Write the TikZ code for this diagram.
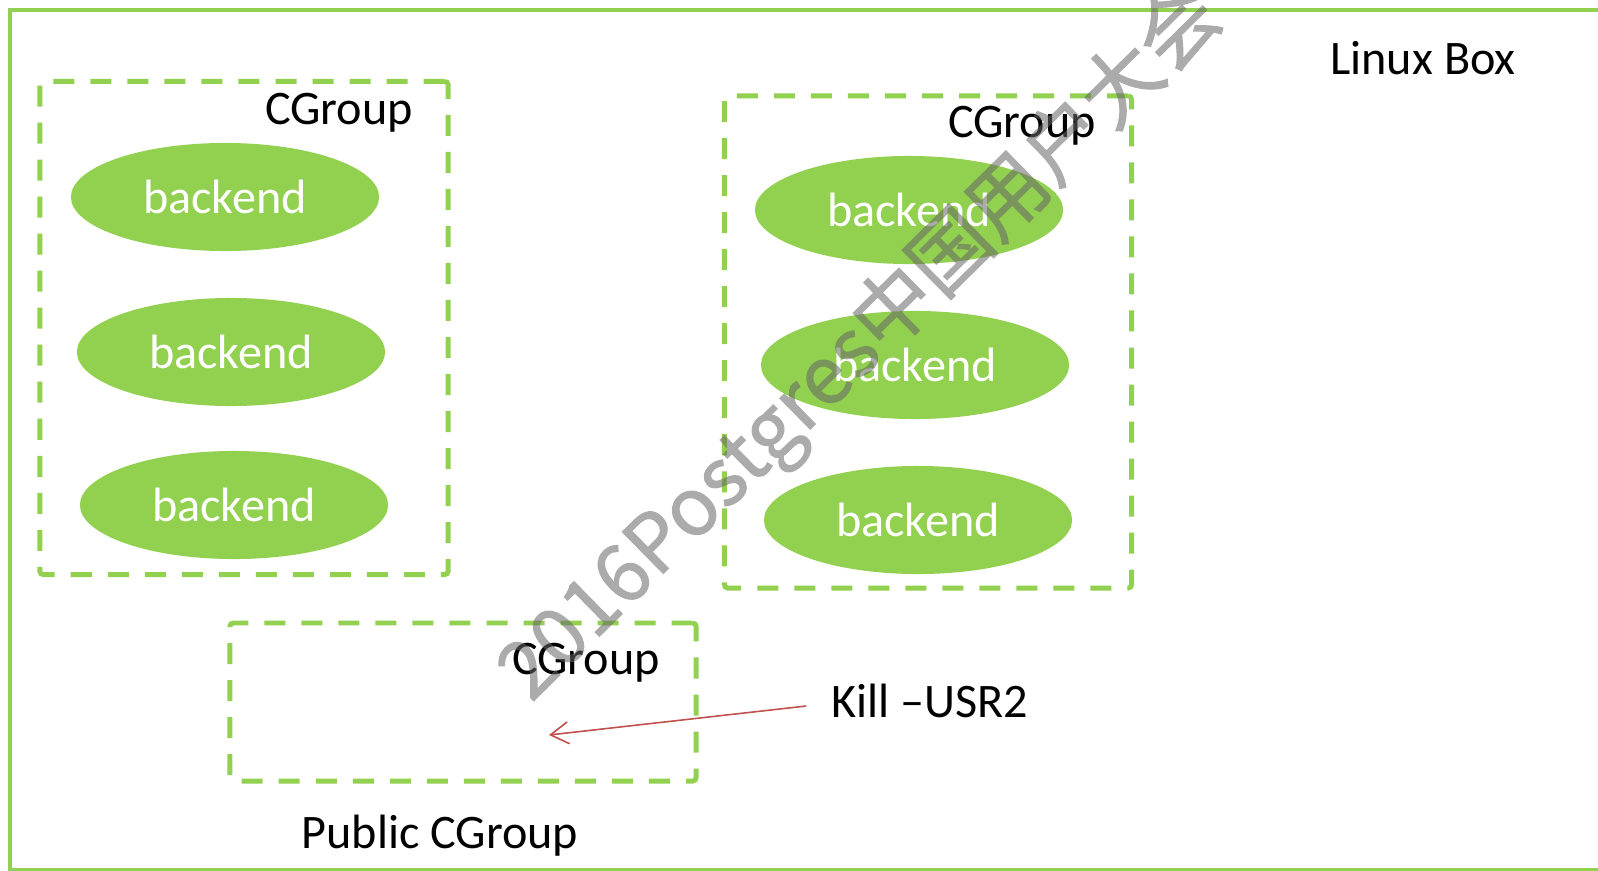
\documentclass[tikz,border=0pt]{standalone}
\usepackage{fontspec}
\setmainfont{Carlito}
\newfontfamily\wmfont[FakeBold=1.2]{Noto Sans CJK SC}
\usetikzlibrary{shapes.geometric, arrows.meta}
\definecolor{boxgreen}{HTML}{92D050}
\definecolor{sigred}{HTML}{C0504D}
\tikzset{backend/.style={ellipse, fill=boxgreen, text=white, minimum width=3.08cm, minimum height=1.08cm, inner sep=0pt}}
\tikzset{cgroup/.style={draw=boxgreen, line width=1.4pt, dash pattern=on 0.21cm off 0.16cm, rounded corners=1pt, inner sep=0pt}}
\tikzset{sigarrow/.style={draw=sigred, line width=0.45pt, -{Straight Barb[length=1.8mm, width=2.2mm]}}}

\begin{document}
\begin{tikzpicture}[x=0.01cm, y=-0.01cm, font=\fontsize{13.7}{16}\selectfont]
            \useasboundingbox (0, 0) rectangle (1598, 870);
            \fill[white] (0, 0) rectangle (1598, 870);
            \draw[boxgreen, line width=1.3pt] (10, 10) rectangle (1640, 870);
            \node (linux) at (1423, 58) {Linux Box};
            % cgroups
            \node[cgroup, minimum width=4.08cm, minimum height=4.93cm] (left) at (244, 328) {};
            \node[cgroup, minimum width=4.07cm, minimum height=4.92cm] (right) at (928, 342) {};
            \node[cgroup, minimum width=4.66cm, minimum height=1.58cm] (public) at (463, 702) {};
            \node (leftlbl) at (339, 113) {CGroup};
            \node (rightlbl) at (1022, 126) {CGroup};
            \node (publbl) at (586, 663) {CGroup};
            \node (pubname) at (440, 836) {Public CGroup};
            % backends
            \foreach \x/\y [count=\i] in {225/197, 231/352, 234/505} {
                \node[backend] (lb\i) at (\x, \y) {backend};
            }
            \foreach \x/\y [count=\i] in {909/210, 915/365, 918/520} {
                \node[backend] (rb\i) at (\x, \y) {backend};
            }
            % signal
            \node (kill) at (930, 701) {Kill --USR2};
            \coordinate (sig) at (549, 735);
            \draw[sigarrow] ([shift={(-0.13cm, -0.05cm)}]kill.west) -- (sig);
            % watermark
            \begin{scope}[transparency group, opacity=0.55]
                \node[rotate=44.5, text=black!60, font=\wmfont\fontsize{22.7}{26}\selectfont] (mark) at (862, 345) {2016Postgres中国用户大会};
            \end{scope}
        \end{tikzpicture}
\end{document}
